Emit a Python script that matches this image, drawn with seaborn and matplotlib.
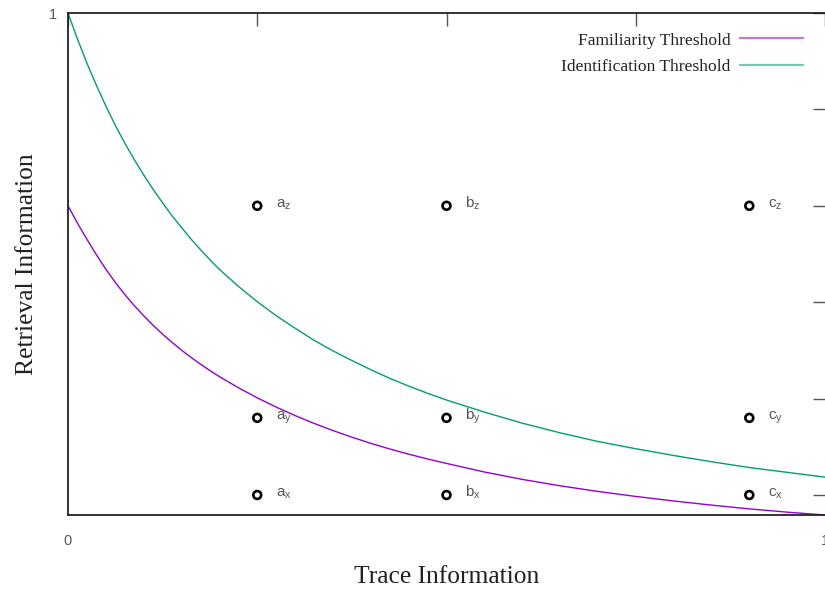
import pandas as pd
import seaborn as sns
import matplotlib.pyplot as plt

# =========================
#       CHART DATA
# =========================
# threshold curves, values (denser where the curves bend)
curve_x = [0.0, 0.0125, 0.025, 0.0375, 0.05, 0.0625, 0.075, 0.0875, 0.1, 0.1125,
           0.125, 0.1375, 0.15, 0.1625, 0.175, 0.1875, 0.2, 0.225, 0.25, 0.275,
           0.3, 0.325, 0.35, 0.375, 0.4, 0.425, 0.45, 0.475, 0.5, 0.55,
           0.6, 0.65, 0.7, 0.75, 0.8, 0.85, 0.9, 0.95, 1.0]
fam_y = [0.600, 0.564, 0.5305, 0.4985, 0.4685, 0.441, 0.416, 0.393, 0.3718, 0.352,
         0.3336, 0.3165, 0.3005, 0.2855, 0.2714, 0.2581, 0.2456, 0.2226, 0.2016, 0.1824,
         0.1648, 0.1486, 0.1337, 0.1199, 0.1072, 0.0955, 0.0847, 0.0747, 0.0655, 0.0477,
         0.0324, 0.0191, 0.0074, -0.003, -0.0124, -0.021, -0.0288, -0.0356, -0.0415]
ident_y = [1.000, 0.946, 0.896, 0.850, 0.807, 0.767, 0.730, 0.696, 0.664, 0.634,
           0.606, 0.579, 0.555, 0.531, 0.509, 0.488, 0.468, 0.433, 0.401, 0.372,
           0.346, 0.321, 0.299, 0.279, 0.260, 0.242, 0.226, 0.211, 0.197, 0.172,
           0.149, 0.129, 0.111, 0.096, 0.082, 0.069, 0.057, 0.047, 0.037]

# labelled points
point_x = [0.25, 0.5, 0.9]
point_y = [0.0, 0.16, 0.6]
point_letters = ["a", "b", "c"]
point_subs = ["x", "y", "z"]

x_ticks = [0, 0.25, 0.5, 0.75, 1]
x_ticklabels = ["0", "", "", "", "1"]
y_ticks = [0, 0.2, 0.4, 0.6, 0.8, 1]
y_ticklabels = ["", "", "", "", "", "1"]

PURPLE = "#9400d3"
GREEN = "#009e73"
GRAY = "#555555"
DARK = "#222222"

# =========================
#       PLOT
# =========================
sns.set_style("white")
plt.rcParams["mathtext.fontset"] = "custom"
plt.rcParams["mathtext.rm"] = "Liberation Sans"
plt.rcParams["mathtext.it"] = "Liberation Sans"

fig = plt.figure(figsize=(8.25, 5.96), dpi=100)
ax = fig.add_axes([68 / 825, 81 / 596, 757 / 825, 502 / 596])

curves = pd.DataFrame({
    "x": curve_x * 2,
    "y": fam_y + ident_y,
    "curve": ["Familiarity Threshold"] * len(curve_x)
             + ["Identification Threshold"] * len(curve_x),
})
sns.lineplot(data=curves, x="x", y="y", hue="curve", palette=[PURPLE, GREEN],
             lw=1.0, sort=False, ax=ax)

pts = pd.DataFrame(
    [(px, py, f"{l}_{s}") for px, l in zip(point_x, point_letters)
     for py, s in zip(point_y, point_subs)],
    columns=["x", "y", "name"],
)
sns.scatterplot(data=pts, x="x", y="y", marker="o", s=32, facecolor="none",
                edgecolor="black", linewidth=1.9, zorder=5, ax=ax, legend=False)
for _, r in pts.iterrows():
    ax.annotate(r"$\mathrm{" + r["name"] + "}$", (r["x"], r["y"]),
                xytext=(13.5, -1.5), textcoords="offset points",
                ha="left", va="baseline", fontsize=11, color=GRAY)

ax.set_xlim(0, 1)
ax.set_ylim(-0.0415, 1)
ax.set_xticks(x_ticks)
ax.set_xticklabels(x_ticklabels)
ax.set_yticks(y_ticks)
ax.set_yticklabels(y_ticklabels)
ax.tick_params(direction="in", length=9, width=1, color=GRAY, labelcolor=GRAY,
               labelsize=10.5, top=True, right=True)
ax.tick_params(axis="x", pad=14)
ax.tick_params(axis="y", pad=8)
for tl in ax.get_xticklabels() + ax.get_yticklabels():
    tl.set_fontfamily("Liberation Sans")

for side in ["left", "bottom", "top"]:
    ax.spines[side].set_color(DARK)
    ax.spines[side].set_linewidth(1.3)
ax.spines["right"].set_visible(False)

ax.set_xlabel("Trace Information", family="Liberation Serif", fontsize=18.4, color=DARK)
ax.set_ylabel("Retrieval Information", family="Liberation Serif", fontsize=18.4, color=DARK)
ax.xaxis.set_label_coords(0.5, -0.101)
ax.yaxis.set_label_coords(-0.040, 0.5)

leg = ax.legend(loc="upper right", bbox_to_anchor=(0.992, 0.993), frameon=False,
                markerfirst=False, handlelength=3.6, handletextpad=0.55,
                labelspacing=0.59, title=None,
                prop={"family": "Liberation Serif", "size": 12.6})
for t in leg.get_texts():
    t.set_color(DARK)
for h in leg.get_lines():
    h.set_linewidth(1.6)
    h.set_alpha(0.55)

fig.savefig("out.png", dpi=100)
